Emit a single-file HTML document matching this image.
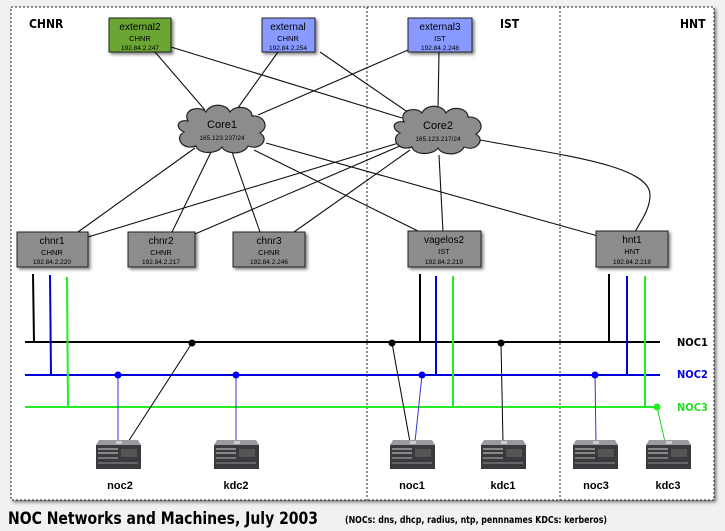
<!DOCTYPE html>
<html><head><meta charset="utf-8"><style>
html,body{margin:0;padding:0;background:#fff}
svg{display:block}
text{font-family:"Liberation Sans",sans-serif}
.b{font-family:"DejaVu Sans Condensed","Liberation Sans Narrow","Liberation Sans",sans-serif;font-weight:bold}
</style></head><body>
<svg width="725" height="531" viewBox="0 0 725 531" xmlns="http://www.w3.org/2000/svg">
<defs>
<filter id="sh" x="-20%" y="-20%" width="150%" height="150%"><feDropShadow dx="2" dy="2" stdDeviation="1.5" flood-opacity="0.5"/></filter>
<g id="srv">
<rect x="0" y="5" width="45" height="24" fill="#3a3a3e"/>
<polygon points="3,0 42,0 45,5 0,5" fill="#9a9aa0"/>
<rect x="2" y="8" width="20" height="2" fill="#888"/><rect x="2" y="12" width="20" height="2" fill="#888"/>
<rect x="2" y="17" width="20" height="2" fill="#777"/><rect x="25" y="9" width="16" height="8" fill="#555"/>
<rect x="2" y="22" width="40" height="2" fill="#666"/>
<rect x="20" y="1" width="6" height="3" fill="#ccc"/>
</g>
<g id="cloud">
<path d="M-34,-8 C-40,-20 -22,-24 -16,-17 C-12,-26 4,-26 8,-17 C14,-25 30,-22 30,-13 C42,-14 48,-2 38,4 C48,10 38,22 26,17 C22,26 4,26 0,18 C-6,26 -24,25 -26,17 C-40,22 -48,8 -38,3 C-48,-2 -44,-10 -34,-8 Z" fill="#8c8c8c" stroke="#222" stroke-width="1.2"/>
</g>
</defs>
<rect x="0" y="0" width="725" height="531" fill="#f1f1f1"/>
<rect x="11" y="7" width="703" height="493" fill="#fff" stroke="#222" stroke-width="1" stroke-dasharray="2,2" filter="url(#sh)"/>
<line x1="367" y1="7" x2="367" y2="500" stroke="#222" stroke-dasharray="2,2"/>
<line x1="560" y1="7" x2="560" y2="500" stroke="#222" stroke-dasharray="2,2"/>
<text x="29" y="28" class="b" font-size="12">CHNR</text>
<text x="500" y="28" class="b" font-size="12">IST</text>
<text x="680" y="28" class="b" font-size="12">HNT</text>

<g stroke="#111" stroke-width="1.1" fill="none">
<line x1="155" y1="52" x2="205" y2="110"/>
<line x1="171" y1="47" x2="402" y2="118"/>
<line x1="278" y1="52" x2="235" y2="112"/>
<line x1="320" y1="52" x2="412" y2="115"/>
<line x1="408" y1="50" x2="258" y2="115"/>
<line x1="439" y1="52" x2="438" y2="110"/>
<line x1="195" y1="148" x2="78" y2="232"/>
<line x1="212" y1="150" x2="172" y2="232"/>
<line x1="232" y1="152" x2="260" y2="232"/>
<line x1="254" y1="150" x2="420" y2="232"/>
<line x1="266" y1="143" x2="598" y2="236"/>
<line x1="402" y1="142" x2="88" y2="237"/>
<line x1="400" y1="146" x2="195" y2="234"/>
<line x1="410" y1="150" x2="294" y2="232"/>
<line x1="439" y1="155" x2="443" y2="232"/>
<path d="M480,140 C560,155 650,165 650,195 C650,210 640,222 635,232"/>
</g>

<use href="#cloud" x="222" y="129"/>
<text x="222" y="128" font-size="11" text-anchor="middle">Core1</text>
<text x="222" y="140" font-size="6.5" text-anchor="middle">165.123.237/24</text>
<use href="#cloud" x="438" y="130"/>
<text x="438" y="129" font-size="11" text-anchor="middle">Core2</text>
<text x="438" y="141" font-size="6.5" text-anchor="middle">165.123.217/24</text>

<g filter="url(#sh)" stroke="#222" stroke-width="1">
<rect x="109" y="18" width="62" height="34" fill="#6aa632"/>
<rect x="262" y="18" width="53" height="34" fill="#8899ff"/>
<rect x="408" y="18" width="64" height="34" fill="#8899ff"/>
<rect x="17" y="232" width="71" height="35" fill="#8c8c8c"/>
<rect x="128" y="232" width="67" height="35" fill="#8c8c8c"/>
<rect x="233" y="232" width="72" height="35" fill="#8c8c8c"/>
<rect x="408" y="231" width="73" height="36" fill="#8c8c8c"/>
<rect x="596" y="231" width="72" height="36" fill="#8c8c8c"/>
</g>
<g text-anchor="middle" font-size="10">
<text x="140" y="30">external2</text><text x="140" y="41" font-size="7.5">CHNR</text><text x="140" y="50" font-size="6.5">192.84.2.247</text>
<text x="288" y="30">external</text><text x="288" y="41" font-size="7.5">CHNR</text><text x="288" y="50" font-size="6.5">192.84.2.254</text>
<text x="440" y="30">external3</text><text x="440" y="41" font-size="7.5">IST</text><text x="440" y="50" font-size="6.5">192.84.2.248</text>
<text x="52" y="244">chnr1</text><text x="52" y="255" font-size="7.5">CHNR</text><text x="52" y="264" font-size="6.5">192.84.2.220</text>
<text x="161" y="244">chnr2</text><text x="161" y="255" font-size="7.5">CHNR</text><text x="161" y="264" font-size="6.5">192.84.2.217</text>
<text x="269" y="244">chnr3</text><text x="269" y="255" font-size="7.5">CHNR</text><text x="269" y="264" font-size="6.5">192.84.2.246</text>
<text x="444" y="243">vagelos2</text><text x="444" y="254" font-size="7.5">IST</text><text x="444" y="264" font-size="6.5">192.84.2.219</text>
<text x="632" y="243">hnt1</text><text x="632" y="254" font-size="7.5">HNT</text><text x="632" y="264" font-size="6.5">192.84.2.218</text>
</g>

<g stroke-width="2" fill="none">
<line x1="25" y1="342" x2="660" y2="342" stroke="#000"/>
<line x1="25" y1="375" x2="660" y2="375" stroke="#0000dd"/>
<line x1="25" y1="407" x2="660" y2="407" stroke="#22ee22"/>
<polyline points="33,274 34,342" stroke="#000"/>
<line x1="50" y1="275" x2="51" y2="375" stroke="#0000dd"/>
<line x1="67" y1="277" x2="68" y2="407" stroke="#22ee22"/>
<line x1="420" y1="274" x2="420" y2="342" stroke="#000"/>
<line x1="436" y1="276" x2="436" y2="375" stroke="#0000dd"/>
<line x1="453" y1="276" x2="453" y2="407" stroke="#22ee22"/>
<line x1="609" y1="274" x2="609" y2="342" stroke="#000"/>
<line x1="627" y1="276" x2="627" y2="375" stroke="#0000dd"/>
<line x1="645" y1="276" x2="645" y2="407" stroke="#22ee22"/>
</g>
<g stroke-width="1">
<line x1="192" y1="343" x2="128" y2="442" stroke="#000"/>
<line x1="118" y1="375" x2="118" y2="442" stroke="#3333cc"/>
<line x1="236" y1="375" x2="236" y2="442" stroke="#3333cc"/>
<line x1="392" y1="343" x2="410" y2="442" stroke="#000"/>
<line x1="422" y1="375" x2="415" y2="442" stroke="#3333cc"/>
<line x1="501" y1="343" x2="503" y2="442" stroke="#000"/>
<line x1="595" y1="375" x2="596" y2="442" stroke="#3333cc"/>
<line x1="657" y1="407" x2="665" y2="442" stroke="#22cc22"/>
</g>
<circle cx="192" cy="343" r="3.5" fill="#000"/>
<circle cx="392" cy="343" r="3.5" fill="#000"/>
<circle cx="501" cy="343" r="3.5" fill="#000"/>
<circle cx="118" cy="375" r="3.5" fill="#0000ee"/>
<circle cx="236" cy="375" r="3.5" fill="#0000ee"/>
<circle cx="422" cy="375" r="3.5" fill="#0000ee"/>
<circle cx="595" cy="375" r="3.5" fill="#0000ee"/>
<circle cx="657" cy="407" r="3.5" fill="#22ee22"/>
<text x="677" y="346" class="b" font-size="11">NOC1</text>
<text x="677" y="378" class="b" font-size="11" fill="#0000dd">NOC2</text>
<text x="677" y="411" class="b" font-size="11" fill="#22dd22">NOC3</text>

<use href="#srv" x="96" y="440"/><use href="#srv" x="214" y="440"/>
<use href="#srv" x="390" y="440"/><use href="#srv" x="481" y="440"/>
<use href="#srv" x="573" y="440"/><use href="#srv" x="646" y="440"/>
<g class="b" font-size="11" text-anchor="middle">
<text x="120" y="489">noc2</text><text x="236" y="489">kdc2</text>
<text x="412" y="489">noc1</text><text x="503" y="489">kdc1</text>
<text x="596" y="489">noc3</text><text x="668" y="489">kdc3</text>
</g>
<text x="8" y="524" class="b" font-size="17" textLength="310" lengthAdjust="spacingAndGlyphs">NOC Networks and Machines, July 2003</text>
<text x="345" y="523" class="b" font-size="9.5" textLength="262" lengthAdjust="spacingAndGlyphs">(NOCs: dns, dhcp, radius, ntp, pennnames  KDCs: kerberos)</text>
</svg>
</body></html>
